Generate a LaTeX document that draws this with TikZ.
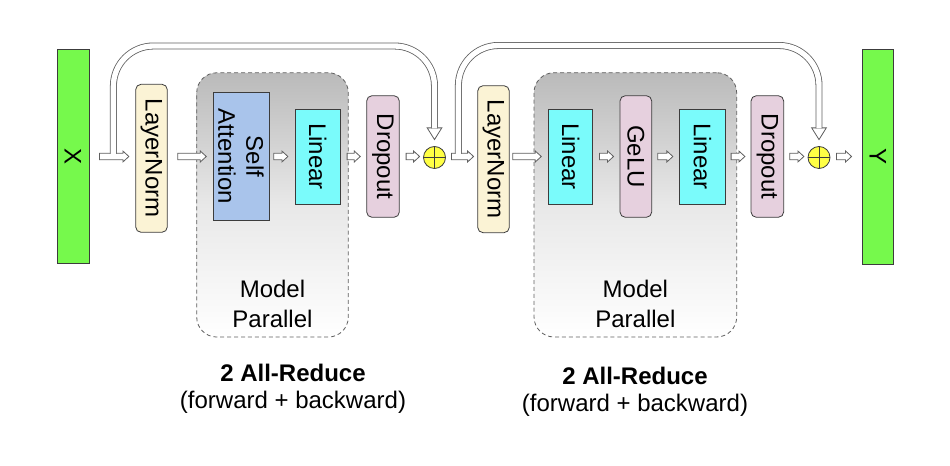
\documentclass[tikz,border=0pt]{standalone}
\usepackage{fontspec}
\newfontfamily\arialf{Liberation Sans}
\usetikzlibrary{calc}
\definecolor{cgreen}{RGB}{118,249,76}
\definecolor{ccream}{RGB}{251,243,213}
\definecolor{cblue}{RGB}{169,196,235}
\definecolor{ccyan}{RGB}{122,251,251}
\definecolor{cpink}{RGB}{230,208,222}
\definecolor{cyel}{RGB}{255,255,68}
\definecolor{cedge}{RGB}{60,60,60}
\definecolor{carr}{RGB}{95,95,95}
\definecolor{cregtop}{RGB}{186,186,186}
\definecolor{cregmid}{RGB}{232,232,232}
\tikzset{
  lbl/.style={font=\arialf\fontsize{18}{21}\selectfont},
  vbox/.style={lbl, rotate=-90, draw=cedge, line width=0.6pt, inner sep=0pt, align=center},
  rbox/.style={vbox, rounded corners=4pt},
  region/.style={draw=carr, dash pattern=on 3pt off 2.2pt, line width=0.6pt, rounded corners=15pt, top color=cregtop, bottom color=white, middle color=cregmid, inner sep=0pt},
  blkarr/.style={draw=carr, fill=white, line width=0.6pt, line join=miter},
  skipline/.style={draw=carr, double=white, double distance=4pt, line width=0.6pt, rounded corners=30pt},
  skiphead/.style={draw=carr, fill=white, line width=0.6pt, line join=miter},
  adder/.style={circle, draw=cedge, fill=cyel, line width=0.6pt, minimum size=16.5pt, inner sep=0pt},
  mptext/.style={font=\arialf\fontsize{18}{22}\selectfont, align=center, inner sep=0pt},
  artext/.style={font=\arialf\fontsize{18}{20}\selectfont, align=center, inner sep=0pt},
}
\newcommand\blk[4]{\draw[blkarr] let \p1=($(#1 |- axis)+(#2,0)$), \p2=($(#3 |- axis)+(#4,0)$) in
  (\x1,\y1+2.5pt) -- (\x2-4.5pt,\y1+2.5pt) -- (\x2-4.5pt,\y1+4.1pt) -- (\x2,\y1) --
  (\x2-4.5pt,\y1-4.1pt) -- (\x2-4.5pt,\y1-2.5pt) -- (\x1,\y1-2.5pt) -- cycle;}
\begin{document}
\begin{tikzpicture}[x=0.75pt, y=-0.75pt]
\useasboundingbox (0,0) rectangle (950,466);
\coordinate (axis) at (0,156.5);
\coordinate (top1) at (0,46);
\coordinate (top2) at (0,45.5);
% regions
\node[region, minimum width=113.7pt, minimum height=198.2pt] (reg1) at (272.5,204.9) {};
\node[region, minimum width=152pt, minimum height=198.2pt] (reg2) at (635.35,204.85) {};
\node[mptext] (mp1) at (272.5,304) {Model\\Parallel};
\node[mptext] (mp2) at (635.35,304) {Model\\Parallel};
% blocks
\node[vbox, fill=cgreen, minimum width=161pt, minimum height=24pt] (X) at (73,156.3) {X};
\node[rbox, fill=ccream, minimum width=111pt, minimum height=23.7pt] (ln1) at (151.5,158.3) {LayerNorm};
\node[vbox, fill=cblue, minimum width=96.5pt, minimum height=42pt] (sa) at (241,156.35) {Self\\Attention};
\node[vbox, fill=ccyan, minimum width=71.25pt, minimum height=33.75pt] (lin1) at (317.8,156.5) {Linear};
\node[rbox, fill=cpink, minimum width=91.2pt, minimum height=24.5pt] (drop1) at (383,156.5) {Dropout};
\node[adder] (add1) at (434.5,157.5) {};
\node[rbox, fill=ccream, minimum width=110.25pt, minimum height=23.7pt] (ln2) at (493.5,159.2) {LayerNorm};
\node[vbox, fill=ccyan, minimum width=71.25pt, minimum height=33pt] (lin2) at (570.7,156.5) {Linear};
\node[rbox, fill=cpink, minimum width=91.2pt, minimum height=23.8pt] (gelu) at (635.85,156.5) {GeLU};
\node[vbox, fill=ccyan, minimum width=71.25pt, minimum height=34pt] (lin3) at (702.35,156.5) {Linear};
\node[rbox, fill=cpink, minimum width=91.2pt, minimum height=24.5pt] (drop2) at (767.35,156.5) {Dropout};
\node[adder] (add2) at (819,157.5) {};
\node[vbox, fill=cgreen, minimum width=161.25pt, minimum height=23.8pt] (Y) at (877.85,156.5) {Y};
\draw[cedge, line width=0.6pt] (add1.north) -- (add1.south) (add1.west) -- (add1.east);
\draw[cedge, line width=0.6pt] (add2.north) -- (add2.south) (add2.west) -- (add2.east);
% bottom labels
\node[artext] (ar1) at (293,388.6) {\bfseries 2 All-Reduce\\(forward + backward)};
\node[artext] (ar2) at (635,391.9) {\bfseries 2 All-Reduce\\(forward + backward)};
% block arrows
\blk{X.north}{10}{ln1.south}{-6.4}
\blk{ln1.north}{10}{sa.south}{-6.3}
\blk{sa.north}{4.3}{lin1.south}{-7}
\blk{lin1.north}{6.4}{drop1.south}{-6}
\blk{drop1.north}{6.4}{add1.west}{-3.5}
\blk{add1.east}{5.5}{ln2.south}{-3.7}
\blk{ln2.north}{3}{lin2.south}{-7}
\blk{lin2.north}{6.3}{gelu.south}{-6}
\blk{gelu.north}{5.6}{lin3.south}{-6.4}
\blk{lin3.north}{5.7}{drop2.south}{-5.7}
\blk{drop2.north}{5.6}{add2.west}{-3.7}
\blk{add2.east}{6}{Y.south}{-10}
% skip connections
\coordinate (s1) at ($(X.north |- axis)+(24,-2.6)$);
\coordinate (h1) at ($(add1.north)+(0,-6.5)$);
\draw[skiphead] ($(h1)+(-7.3,-11.7)$) -- (h1) -- ($(h1)+(7.3,-11.7)$) -- cycle;
\draw[skipline] (s1) -- (s1 |- top1) -- (h1 |- top1) -- ($(h1)+(0,-11.2)$);
\coordinate (s2) at ($(add1.east |- axis)+(12.5,-2.6)$);
\coordinate (h2) at ($(add2.north)+(0,-6.5)$);
\draw[skiphead] ($(h2)+(-7.3,-11.7)$) -- (h2) -- ($(h2)+(7.3,-11.7)$) -- cycle;
\draw[skipline] (s2) -- (s2 |- top2) -- (h2 |- top2) -- ($(h2)+(0,-11.2)$);
\end{tikzpicture}
\end{document}
